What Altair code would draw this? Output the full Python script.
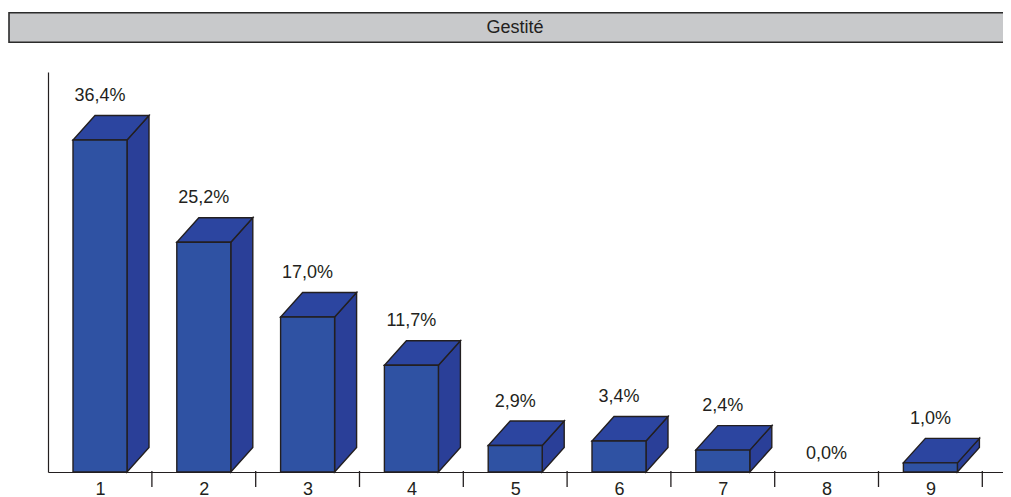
import altair as alt
import pandas as pd

# ---- data ----
categories = [1, 2, 3, 4, 5, 6, 7, 8, 9]
values = [36.4, 25.2, 17.0, 11.7, 2.9, 3.4, 2.4, 0.0, 1.0]
value_labels = ["36,4%", "25,2%", "17,0%", "11,7%", "2,9%", "3,4%", "2,4%", "0,0%", "1,0%"]
title_text = "Gestité"

# ---- styling / geometry (pixels -> data units) ----
W, H = 955, 400
PX_PER_CAT = 103.8
PX_PER_PCT = 9.12
FIRST_CENTER_PX = 52.0          # centre of category 1 from plot left
HALF = 27 / PX_PER_CAT          # half width of the front face
DX = 22 / PX_PER_CAT            # 3D depth, horizontal
DY = 24.5 / PX_PER_PCT          # 3D depth, vertical
FONT = "Liberation Sans"
INK = "#231F20"
FRONT = "#2F52A3"
TOP = "#2C45A0"
SIDE = "#2A3F98"
SW = 1.4

x_start = 1 - FIRST_CENTER_PX / PX_PER_CAT
xdom = [x_start, x_start + W / PX_PER_CAT]
ydom = [0, H / PX_PER_PCT]
xs = alt.Scale(domain=xdom, nice=False, zero=False)
ys = alt.Scale(domain=ydom, nice=False)

base = pd.DataFrame({"cat": categories, "value": values, "label": value_labels})
bars = base[base["value"] > 0]

front = pd.DataFrame({
    "cat": bars["cat"],
    "x0": bars["cat"] - HALF,
    "x1": bars["cat"] + HALF,
    "y0": 0.0,
    "y1": bars["value"],
})

top_rows, side_rows = [], []
for c, v in zip(bars["cat"], bars["value"]):
    xl, xr = c - HALF, c + HALF
    top_rows += [
        {"cat": c, "x": xl, "lo": v, "hi": v},
        {"cat": c, "x": xl + DX, "lo": v, "hi": v + DY},
        {"cat": c, "x": xr, "lo": v, "hi": v + DY},
        {"cat": c, "x": xr + DX, "lo": v + DY, "hi": v + DY},
    ]
    side_rows += [
        {"cat": c, "x": xr, "lo": 0.0, "hi": v},
        {"cat": c, "x": xr + DX, "lo": DY, "hi": v + DY},
    ]
top_df = pd.DataFrame(top_rows)
side_df = pd.DataFrame(side_rows)

ticks_df = pd.DataFrame({"t": [c + 0.5 for c in categories]})

x_axis = alt.Axis(values=categories, ticks=False, grid=False, domainColor=INK,
                  domainWidth=1.2, labelFont=FONT, labelFontSize=18, labelColor=INK,
                  labelPadding=8, title=None, format="d")
y_axis = alt.Axis(labels=False, ticks=False, grid=False, domainColor=INK,
                  domainWidth=1.2, title=None)

side = alt.Chart(side_df).mark_area(fill=SIDE, stroke=INK, strokeWidth=SW,
                                    strokeJoin="miter").encode(
    x=alt.X("x:Q", scale=xs, axis=x_axis),
    y=alt.Y("lo:Q", scale=ys, axis=y_axis),
    y2="hi:Q",
    detail="cat:N",
)
top = alt.Chart(top_df).mark_area(fill=TOP, stroke=INK, strokeWidth=SW,
                                  strokeJoin="miter").encode(
    x=alt.X("x:Q", scale=xs),
    y=alt.Y("lo:Q", scale=ys),
    y2="hi:Q",
    detail="cat:N",
)
face = alt.Chart(front).mark_rect(fill=FRONT, stroke=INK, strokeWidth=SW).encode(
    x=alt.X("x0:Q", scale=xs),
    x2="x1:Q",
    y=alt.Y("y0:Q", scale=ys),
    y2="y1:Q",
)

labels_on = alt.Chart(base[base["value"] > 0]).mark_text(
    font=FONT, fontSize=18, color=INK, dy=-44, baseline="middle").encode(
    x=alt.X("cat:Q", scale=xs), y=alt.Y("value:Q", scale=ys), text="label:N")
labels_zero = alt.Chart(base[base["value"] == 0]).mark_text(
    font=FONT, fontSize=18, color=INK, dy=-18, baseline="middle").encode(
    x=alt.X("cat:Q", scale=xs), y=alt.Y("value:Q", scale=ys), text="label:N")

tick_marks = alt.Chart(ticks_df).mark_rule(color=INK, strokeWidth=1.3).encode(
    x=alt.X("t:Q", scale=xs), y=alt.value(H - 1), y2=alt.value(H + 15))

banner_df = pd.DataFrame({"title": [title_text]})
banner = alt.Chart(banner_df).mark_rect(fill="#C8C9CB", stroke="#2B2B2B",
                                        strokeWidth=1.6).encode(
    x=alt.value(-39), x2=alt.value(W + 10), y=alt.value(-59.3), y2=alt.value(-29.7))
banner_text = alt.Chart(banner_df).mark_text(font=FONT, fontSize=18, color=INK,
                                             baseline="middle").encode(
    x=alt.value(467), y=alt.value(-44.5), text="title:N")

chart = alt.layer(side, banner, banner_text, tick_marks, top, face,
                  labels_on, labels_zero).properties(
    width=W, height=H,
    background="white",
    autosize=alt.AutoSizeParams(type="none"),
    padding={"left": 40, "top": 64, "right": 0, "bottom": 25},
).configure_view(stroke=None, strokeWidth=0).configure_axis(grid=False)

chart.save("out.html", embed_options={"renderer": "svg", "actions": False})
